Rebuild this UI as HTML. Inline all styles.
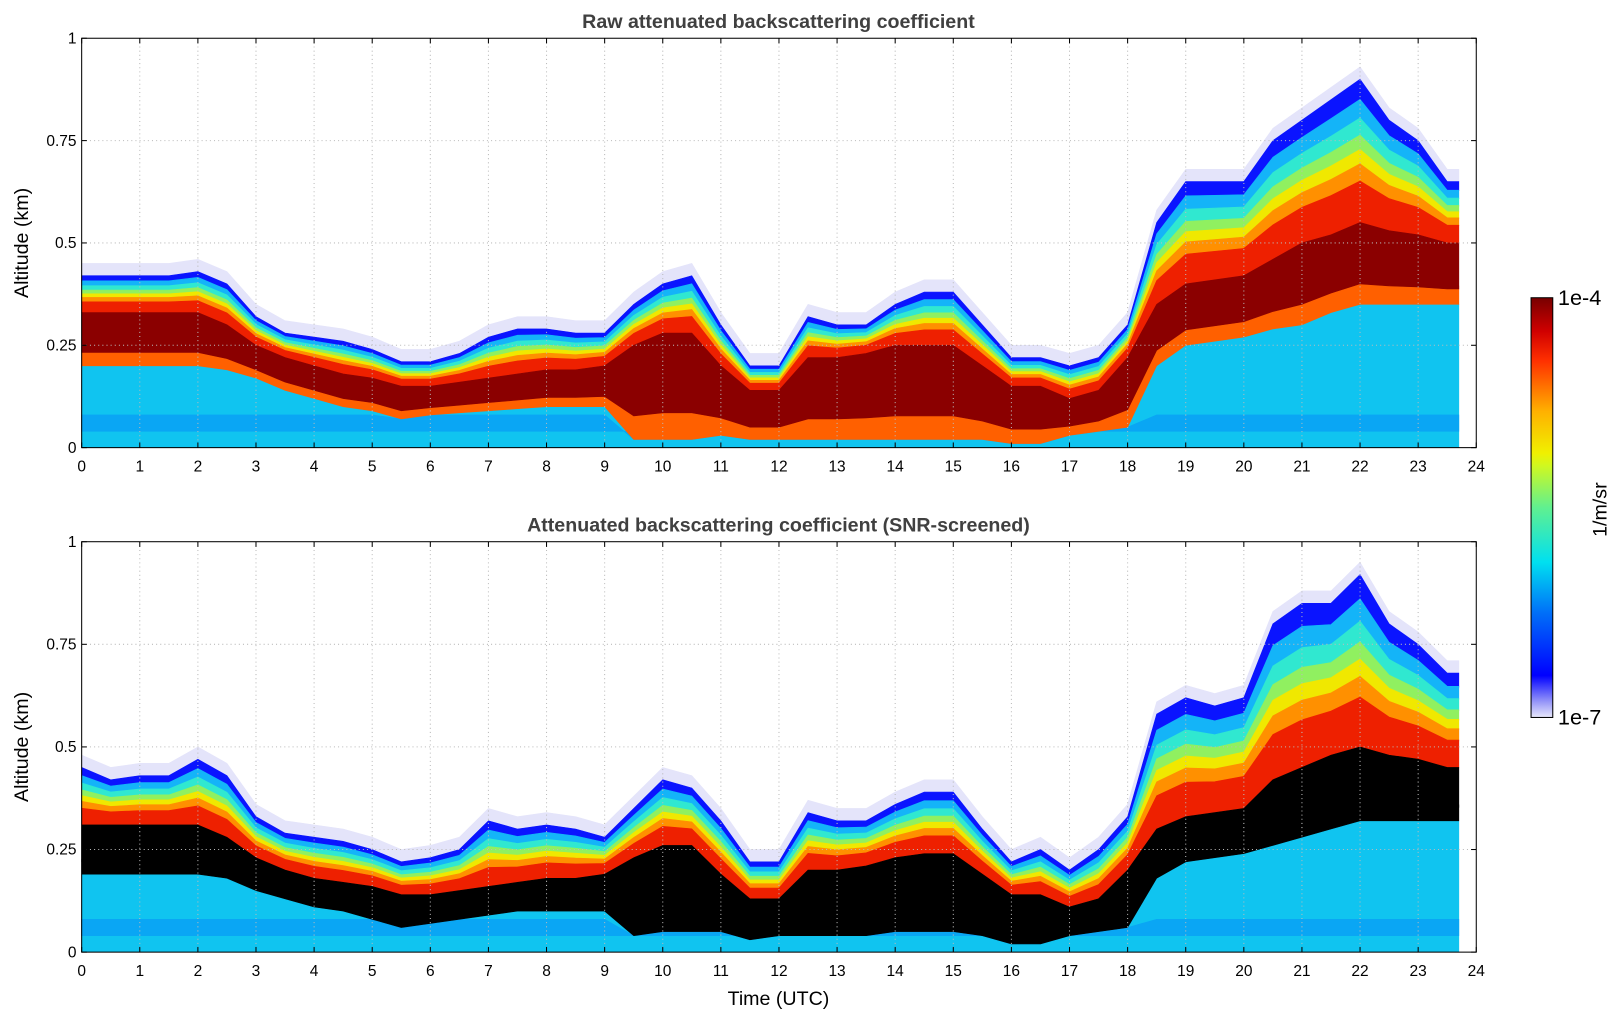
<!DOCTYPE html>
<html><head><meta charset="utf-8">
<style>
html,body{margin:0;padding:0;background:#fff;width:1621px;height:1020px;overflow:hidden}
#wrap{width:1568px;height:987px;transform:scale(1.0338);transform-origin:0 0;position:relative}
text{font-family:"Liberation Sans","DejaVu Sans",sans-serif}
</style></head>
<body>
<div id="wrap">
<svg id="chart" width="1568" height="987" xmlns="http://www.w3.org/2000/svg"></svg>
</div>
<script>
const hours=[0,0.5,1,1.5,2,2.5,3,3.5,4,4.5,5,5.5,6,6.5,7,7.5,8,8.5,9,9.5,10,10.5,11,11.5,12,12.5,13,13.5,14,14.5,15,15.5,16,16.5,17,17.5,18,18.5,19,19.5,20,20.5,21,21.5,22,22.5,23,23.5,23.7];
const topSignal1=[0.42,0.42,0.42,0.42,0.43,0.40,0.32,0.28,0.27,0.26,0.24,0.21,0.21,0.23,0.27,0.29,0.29,0.28,0.28,0.35,0.40,0.42,0.30,0.20,0.20,0.32,0.30,0.30,0.35,0.38,0.38,0.30,0.22,0.22,0.20,0.22,0.30,0.55,0.65,0.65,0.65,0.75,0.80,0.85,0.90,0.80,0.75,0.65,0.65];
const coreTop1=[0.33,0.33,0.33,0.33,0.33,0.30,0.25,0.22,0.20,0.18,0.17,0.15,0.15,0.16,0.17,0.18,0.19,0.19,0.20,0.25,0.28,0.28,0.20,0.14,0.14,0.22,0.22,0.23,0.25,0.25,0.25,0.20,0.15,0.15,0.12,0.14,0.22,0.35,0.40,0.41,0.42,0.46,0.50,0.52,0.55,0.53,0.52,0.50,0.50];
const coreBot1=[0.20,0.20,0.20,0.20,0.20,0.19,0.17,0.14,0.12,0.10,0.09,0.07,0.08,0.085,0.09,0.095,0.10,0.10,0.10,0.02,0.02,0.02,0.03,0.02,0.02,0.02,0.02,0.02,0.02,0.02,0.02,0.02,0.01,0.01,0.03,0.04,0.05,0.20,0.25,0.26,0.27,0.29,0.30,0.33,0.35,0.35,0.35,0.35,0.35];
const topSignal2=[0.45,0.42,0.43,0.43,0.47,0.43,0.33,0.29,0.28,0.27,0.25,0.22,0.23,0.25,0.32,0.30,0.31,0.30,0.28,0.35,0.42,0.40,0.32,0.22,0.22,0.34,0.32,0.32,0.36,0.39,0.39,0.30,0.22,0.25,0.20,0.25,0.33,0.58,0.62,0.60,0.62,0.80,0.85,0.85,0.92,0.80,0.75,0.68,0.68];
const coreTop2=[0.31,0.31,0.31,0.31,0.31,0.28,0.23,0.20,0.18,0.17,0.16,0.14,0.14,0.15,0.16,0.17,0.18,0.18,0.19,0.23,0.26,0.26,0.19,0.13,0.13,0.20,0.20,0.21,0.23,0.24,0.24,0.19,0.14,0.14,0.11,0.13,0.20,0.30,0.33,0.34,0.35,0.42,0.45,0.48,0.50,0.48,0.47,0.45,0.45];
const coreBot2=[0.19,0.19,0.19,0.19,0.19,0.18,0.15,0.13,0.11,0.10,0.08,0.06,0.07,0.08,0.09,0.10,0.10,0.10,0.10,0.04,0.05,0.05,0.05,0.03,0.04,0.04,0.04,0.04,0.05,0.05,0.05,0.04,0.02,0.02,0.04,0.05,0.06,0.18,0.22,0.23,0.24,0.26,0.28,0.30,0.32,0.32,0.32,0.32,0.32];
const xTicks=[0,1,2,3,4,5,6,7,8,9,10,11,12,13,14,15,16,17,18,19,20,21,22,23,24];
const yTicks=[0,0.25,0.5,0.75,1];
const yTickLabels=["0","0.25","0.5","0.75","1"];

const svg=document.getElementById('chart');
const NS="http://www.w3.org/2000/svg";
const X0=79,X1=1428;
function xs(h){return X0+(X1-X0)*h/24;}
function mk(tag,attrs,parent){const e=document.createElementNS(NS,tag);for(const k in attrs)e.setAttribute(k,attrs[k]);(parent||svg).appendChild(e);return e;}
function band(g,ys,lo,hi,color,name){
  let pts=[];
  for(let i=0;i<hours.length;i++)pts.push(xs(hours[i])+','+ys(hi(i)));
  for(let i=hours.length-1;i>=0;i--)pts.push(xs(hours[i])+','+ys(lo(i)));
  const p=mk('polygon',{points:pts.join(' '),fill:color,stroke:color,'stroke-width':0.6},g);
  
  
}
function panel(Y0,Y1,title,sig,ct,cb,coreColor,isBottom){
  const ys=a=>Y0-(Y0-Y1)*a;
  const g=mk('g',{});
  
  
  band(g,ys,i=>sig[i],i=>Math.min(1,sig[i]+0.03),'#e4e4fa','haze-band');
  const cols=[['#0a14ff',0.85,1],['#14b4f8',0.72,0.86],['#30e8d0',0.6,0.73],['#90f060',0.5,0.61],['#f0e800',0.4,0.51],['#ff9000',0.28,0.41],['#ee2000',0,0.29]];
  cols.forEach(c=>band(g,ys,i=>ct[i]+c[1]*(sig[i]-ct[i]),i=>ct[i]+c[2]*(sig[i]-ct[i]),c[0],'signal-band'));
  band(g,ys,i=>0,i=>cb[i],'#10c4f0','ground-band');
  band(g,ys,i=>0.04,i=>Math.min(cb[i],0.08),'#0aa6f4','low-band');
  band(g,ys,i=>cb[i],i=>cb[i]+0.3*(ct[i]-cb[i]),isBottom?'#000000':'#ff6000','core-lower');
  band(g,ys,i=>cb[i]+0.25*(ct[i]-cb[i]),i=>ct[i],coreColor,'core-band');
  xTicks.forEach(t=>{if(t>0&&t<24){const l=mk('line',{x1:xs(t),x2:xs(t),y1:Y1,y2:Y0,stroke:'#bbb','stroke-dasharray':'1,3','stroke-width':1});}});
  yTicks.forEach(t=>{if(t>0&&t<1){const l=mk('line',{x1:X0,x2:X1,y1:ys(t),y2:ys(t),stroke:'#bbb','stroke-dasharray':'1,3','stroke-width':1});}});
  const f=mk('rect',{x:X0,y:Y1,width:X1-X0,height:Y0-Y1,fill:'none',stroke:'#000','stroke-width':1});
  
  xTicks.forEach(t=>{
    mk('line',{x1:xs(t),x2:xs(t),y1:Y0,y2:Y0-5,stroke:'#000'});
    mk('line',{x1:xs(t),x2:xs(t),y1:Y1,y2:Y1+5,stroke:'#000'});
    const tx=mk('text',{x:xs(t),y:Y0+23,'text-anchor':'middle','font-size':15});tx.textContent=t;
    
  });
  yTicks.forEach((t,i)=>{
    mk('line',{x1:X0,x2:X0+5,y1:ys(t),y2:ys(t),stroke:'#000'});
    mk('line',{x1:X1,x2:X1-5,y1:ys(t),y2:ys(t),stroke:'#000'});
    const tx=mk('text',{x:X0-5,y:ys(t)+5,'text-anchor':'end','font-size':15});tx.textContent=yTickLabels[i];
    
  });
  const tt=mk('text',{x:753,y:Y1-10,'text-anchor':'middle','font-size':19,'font-weight':'bold',fill:'#404040'});tt.textContent=title;
  
  const yl=mk('text',{x:0,y:0,transform:`translate(27,${(Y0+Y1)/2}) rotate(-90)`,'text-anchor':'middle','font-size':19});yl.textContent='Altitude (km)';
  
}
panel(433,37,'Raw attenuated backscattering coefficient',topSignal1,coreTop1,coreBot1,'#8b0000',false);
panel(921,524,'Attenuated backscattering coefficient (SNR-screened)',topSignal2,coreTop2,coreBot2,'#000000',true);
const xl=mk('text',{x:753,y:972,'text-anchor':'middle','font-size':19});xl.textContent='Time (UTC)';

const defs=mk('defs',{});
const lg=mk('linearGradient',{id:'jet',x1:0,y1:1,x2:0,y2:0},defs);
[['0','#e8e8fa'],['0.04','#9090f8'],['0.1','#0000ff'],['0.25','#0070f8'],['0.37','#00e0f0'],['0.5','#60f090'],['0.6','#d0f820'],['0.63','#f0f000'],['0.73','#ffb000'],['0.85','#ff3000'],['0.92','#d00000'],['1','#780000']].forEach(s=>mk('stop',{offset:s[0],'stop-color':s[1]},lg));
const cb=mk('rect',{x:1481,y:288,width:21,height:406,fill:'url(#jet)',stroke:'#000','stroke-width':1});

const c1=mk('text',{x:1507,y:295,'font-size':21});c1.textContent='1e-4';

const c2=mk('text',{x:1507,y:701,'font-size':21});c2.textContent='1e-7';

const cu=mk('text',{x:0,y:0,transform:'translate(1554,493) rotate(-90)','text-anchor':'middle','font-size':19});cu.textContent='1/m/sr';

</script>
</body></html>
